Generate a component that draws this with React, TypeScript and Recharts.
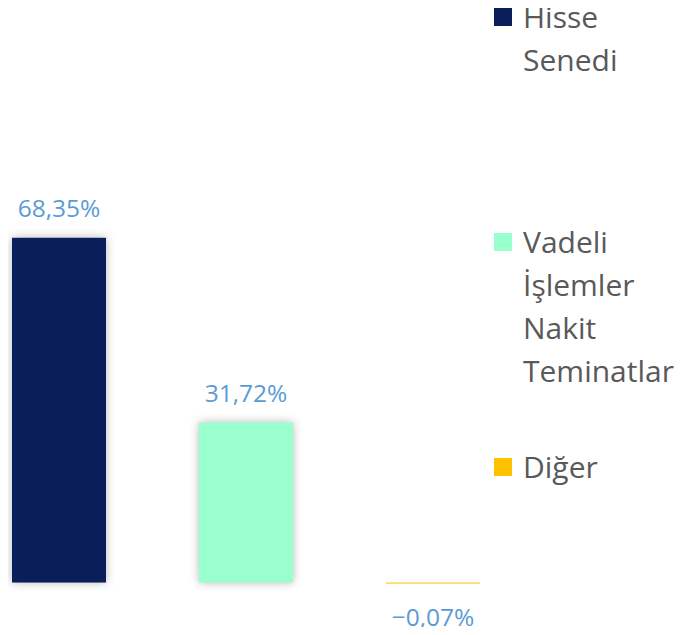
import { BarChart, Bar, XAxis, YAxis, Cell } from 'recharts';

const categories = ['Hisse Senedi', 'Vadeli İşlemler Nakit Teminatları', 'Diğer'];
const values = [68.35, 31.72, -0.07];
const colors = ['#0A1E5A', '#99FFCC', '#FFC000'];
const yDomain = [-10, 80];

const data = categories.map((name, i) => ({ name, value: values[i] }));

const FONT = '"Open Sans", "Noto Sans", sans-serif';

const fmt = (v: number) => {
  const s = Math.abs(v).toFixed(2).split('.').join(',');
  return (v < 0 ? '\u2212' : '') + s + '%';
};

const ShadowBar = (props: any) => {
  const { x, y, width, height, fill } = props;
  const top = Math.min(y, y + height);
  const h = Math.max(Math.abs(height), 1);
  return (
    <rect
      x={x}
      y={top}
      width={width}
      height={h}
      fill={fill}
      style={{ filter: h > 2 ? 'drop-shadow(0px 0px 5px rgba(0,0,0,0.28))' : undefined }}
    />
  );
};

const ValueLabel = (props: any) => {
  const { x, y, width, height, value } = props;
  const top = Math.min(y, y + height);
  const bottom = Math.max(y, y + height);
  const cy = value < 0 ? bottom + 34 : top - 30;
  return (
    <text
      x={x + width / 2}
      y={cy}
      textAnchor="middle"
      dominantBaseline="central"
      fill="#5B9BD5"
      fontSize={24.5}
      fontFamily={FONT}
    >
      {fmt(value)}
    </text>
  );
};

const LegendBox = () => (
  <div style={{ position: 'absolute', top: -5, left: 494, display: 'flex', flexDirection: 'column' }}>
    {categories.map((name, i) => (
      <div key={name} style={{ display: 'flex', alignItems: 'flex-start', height: 225 }}>
        <div style={{ width: 18, height: 18, marginTop: 13, background: colors[i], flex: 'none' }} />
        <div
          style={{
            marginLeft: 11,
            width: 110,
            fontFamily: FONT,
            fontSize: 30,
            lineHeight: '43px',
            color: '#595959',
          }}
        >
          {name}
        </div>
      </div>
    ))}
  </div>
);

export default function App() {
  return (
    <div style={{ margin: -8, width: 683, height: 635, overflow: 'hidden', background: '#fff', position: 'relative' }}>
      <BarChart
        width={683}
        height={635}
        data={data}
        margin={{ top: 179, right: 156.5, bottom: 2, left: -34.5 }}
        barCategoryGap={46.5}
      >
        <XAxis dataKey="name" hide />
        <YAxis hide domain={yDomain} allowDataOverflow />
        <Bar
          dataKey="value"
          isAnimationActive={false}
          shape={<ShadowBar />}
          label={<ValueLabel />}
        >
          {data.map((d, i) => (
            <Cell key={d.name} fill={colors[i]} />
          ))}
        </Bar>
      </BarChart>
      <LegendBox />
    </div>
  );
}
